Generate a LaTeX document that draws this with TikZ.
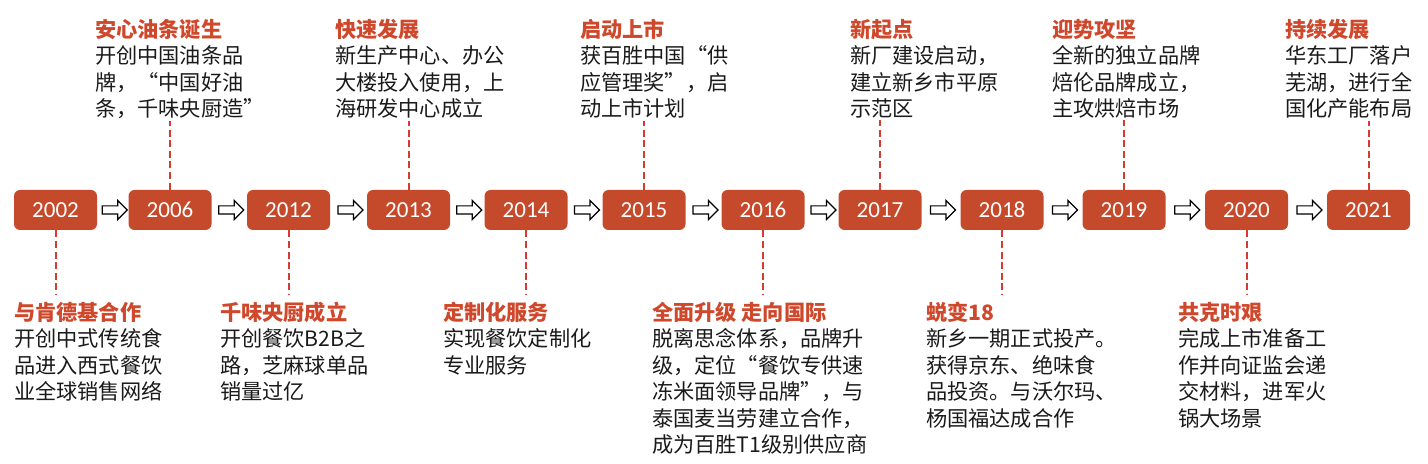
\documentclass[tikz,border=0pt]{standalone}
\usepackage{fontspec}
\setmainfont{Noto Sans CJK SC}
\newfontfamily\yearfont{Carlito}
\usetikzlibrary{calc,shapes.arrows}
\definecolor{boxred}{RGB}{197,74,43}
\definecolor{titlered}{RGB}{207,72,44}
\definecolor{dashred}{RGB}{214,58,48}
\definecolor{bodytext}{RGB}{26,26,26}
\newcommand\evtitle[1]{{\color{titlered}\bfseries #1}}
\begin{document}
\begin{tikzpicture}[x=.5pt,y=-.5pt,
  yearbox/.style={fill=boxred,rounded corners=3pt,minimum width=41.5pt,minimum height=20pt,inner sep=0pt,text height=7.2pt,text depth=0pt,text=white,font=\yearfont\fontsize{11.5}{13}\selectfont},
  blockarrow/.style={single arrow,draw=black,fill=white,line width=0.6pt,minimum height=12.5pt,inner xsep=0pt,inner ysep=1.75pt,single arrow head extend=2.75pt},
  evtext/.style={inner sep=0pt,outer sep=0pt,align=left,anchor=north west,text=bodytext,font=\fontsize{10.6}{13.25}\selectfont},
  evline/.style={draw=dashred,line width=1pt,dash pattern=on 3.5pt off 1.8pt}]
\path[use as bounding box] (0,0) rectangle (1428,464);
% year boxes
\foreach \yr/\cx in {2002/55.5,2006/170,2012/288.5,2013/408.5,2014/526,2015/644,2016/763,2017/880,2018/1002,2019/1124,2020/1246.5,2021/1368.5}
  \node[yearbox] (y\yr) at (\cx,210) {\yr};
\foreach \a/\b in {2002/2006,2006/2012,2012/2013,2013/2014,2014/2015,2015/2016,2016/2017,2017/2018,2018/2019,2019/2020,2020/2021}
  \node[blockarrow] (a\a) at ($(y\a.east)!.5!(y\b.west)$) {};
% events above the line
\node[evtext] (e2006) at (95,19) {\evtitle{安心油条诞生}\\开创中国油条品\\牌，“中国好油\\条，千味央厨造”};
\node[evtext] (e2013) at (335,19) {\evtitle{快速发展}\\新生产中心、办公\\大楼投入使用，上\\海研发中心成立};
\node[evtext] (e2015) at (580,19) {\evtitle{启动上市}\\获百胜中国“供\\应管理奖”，启\\动上市计划};
\node[evtext] (e2017) at (850,19) {\evtitle{新起点}\\新厂建设启动，\\建立新乡市平原\\示范区};
\node[evtext] (e2019) at (1052,19) {\evtitle{迎势攻坚}\\全新的独立品牌\\焙伦品牌成立，\\主攻烘焙市场};
\node[evtext] (e2021) at (1285,19) {\evtitle{持续发展}\\华东工厂落户\\芜湖，进行全\\国化产能布局};
% events below the line
\node[evtext] (e2002) at (14,302) {\evtitle{与肯德基合作}\\开创中式传统食\\品进入西式餐饮\\业全球销售网络};
\node[evtext] (e2012) at (220,302) {\evtitle{千味央厨成立}\\开创餐饮B2B之\\路，芝麻球单品\\销量过亿};
\node[evtext] (e2014) at (443,302) {\evtitle{定制化服务}\\实现餐饮定制化\\专业服务};
\node[evtext] (e2016) at (652,302) {\evtitle{全面升级 走向国际}\\脱离思念体系，品牌升\\级，定位“餐饮专供速\\冻米面领导品牌”，与\\泰国麦当劳建立合作，\\成为百胜T1级别供应商};
\node[evtext] (e2018) at (926,302) {\evtitle{蜕变18}\\新乡一期正式投产。\\获得京东、绝味食\\品投资。与沃尔玛、\\杨国福达成合作};
\node[evtext] (e2020) at (1178,302) {\evtitle{共克时艰}\\完成上市准备工\\作并向证监会递\\交材料，进军火\\锅大场景};
% dashed leaders
\foreach \yr in {2006,2013,2015,2017,2019,2021}
  \draw[evline] (y\yr.north) -- ($(y\yr.north |- e\yr.south)+(0,2)$);
\foreach \yr in {2002,2012,2014,2016,2018,2020}
  \draw[evline] (y\yr.south) -- ($(y\yr.south |- e\yr.north)+(0,-7)$);
\end{tikzpicture}
\end{document}
